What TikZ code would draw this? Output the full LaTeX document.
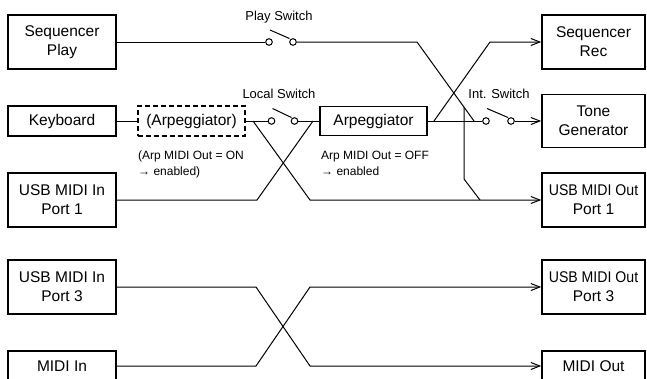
\documentclass[tikz,border=0pt]{standalone}
\usepackage{fontspec}
\setmainfont{Liberation Sans}
\usetikzlibrary{arrows.meta}
\newcommand{\narrowtxt}[1]{{\addfontfeature{FakeStretch=0.91}#1}}
\begin{document}
\begin{tikzpicture}[x=1pt,y=-1pt,
  box/.style={draw, line width=1.5pt, inner sep=0pt, align=center, font=\fontsize{15.5}{19}\selectfont},
  dbox/.style={box, dash pattern=on 5pt off 3pt},
  conn/.style={line width=1pt},
  arr/.style={conn, -{Straight Barb[length=9pt,width=7pt,line width=1pt]}},
  contact/.style={circle, draw, line width=1pt, fill=white, minimum size=6.6pt, inner sep=0pt},
  lbl/.style={font=\fontsize{13}{15}\selectfont, inner sep=0pt},
  note/.style={font=\fontsize{12}{16}\selectfont, align=left, inner sep=0pt, anchor=north west},
]
\useasboundingbox (0,0) rectangle (647,378);
\clip (0,0) rectangle (647,378);
% left boxes
\node[box, minimum width=108pt, minimum height=54pt] (seqplay) at (62,42) {Sequencer\\Play};
\node[box, minimum width=108pt, minimum height=30pt] (kbd) at (62,121) {Keyboard};
\node[dbox, minimum width=107pt, minimum height=30pt] (arpd) at (191.5,121) {(Arpeggiator)};
\node[box, minimum width=107pt, minimum height=29pt] (arp) at (373.5,121) {Arpeggiator};
\node[box, minimum width=108pt, minimum height=54pt] (usbin1) at (62,200) {USB MIDI In\\Port 1};
\node[box, minimum width=108pt, minimum height=54pt] (usbin3) at (62,287) {USB MIDI In\\Port 3};
\node[box, minimum width=108pt, minimum height=30pt] (midiin) at (62,366) {MIDI In};
% right boxes
\node[box, minimum width=103pt, minimum height=54pt] (seqrec) at (593.5,42) {Sequencer\\Rec};
\node[box, minimum width=103pt, minimum height=53pt] (tone) at (593.5,121) {Tone\\Generator};
\node[box, minimum width=103pt, minimum height=54pt] (usbout1) at (593.5,200) {\narrowtxt{USB MIDI Out}\\Port 1};
\node[box, minimum width=103pt, minimum height=54pt] (usbout3) at (593.5,287) {\narrowtxt{USB MIDI Out}\\Port 3};
\node[box, minimum width=103pt, minimum height=30pt] (midiout) at (593.5,366) {MIDI Out};
% waypoints
\coordinate (pc1) at (417,42);
\coordinate (pc2) at (474,121);
\coordinate (pb1) at (464,107.1);
\coordinate (pb2) at (464,179);
\coordinate (pb3) at (480,200);
\coordinate (lc1) at (253,121);
\coordinate (lc2) at (310,200);
\coordinate (lc3) at (257,200);
\coordinate (lc4) at (313,121);
\coordinate (ac1) at (434,121);
\coordinate (ac2) at (490,42);
\coordinate (bc1) at (256,287);
\coordinate (bc2) at (310,366);
\coordinate (bc3) at (256,366);
\coordinate (bc4) at (310,287);
% switches (contacts)
\node[contact] (ps1) at (269,42) {};
\node[contact] (ps2) at (293,42) {};
\node[contact] (ls1) at (271.5,121) {};
\node[contact] (ls2) at (294.5,121) {};
\node[contact] (is1) at (486,121) {};
\node[contact] (is2) at (511,121) {};
% connectors
\draw[conn] (seqplay.east) -- (ps1.west);
\draw[conn] (ps2.east) -- (pc1) -- (pc2);
\draw[conn] (pb1) -- (pb2) -- (pb3);
\draw[conn] (kbd.east) -- (arpd.west);
\draw[conn] (arpd.east) -- (ls1.west);
\draw[conn] (ls2.east) -- (arp.west);
\draw[arr] (lc1) -- (lc2) -- (usbout1.west);
\draw[conn] (usbin1.east) -- (lc3) -- (lc4);
\draw[conn] (arp.east) -- (is1.west);
\draw[arr] (ac1) -- (ac2) -- (seqrec.west);
\draw[arr] (is2.east) -- (tone.west);
\draw[arr] (usbin3.east) -- (bc1) -- (bc2) -- (midiout.west);
\draw[arr] (midiin.east) -- (bc3) -- (bc4) -- (usbout3.west);
% switch blades
\draw[conn] (270,30) -- (289.5,38.5);
\draw[conn] (272.5,108.5) -- (291.5,117.5);
\draw[conn] (487,108.5) -- (508,117.5);
% labels
\node[lbl] (psl) at (279,17) {Play Switch};
\node[lbl] (lsl) at (279,94) {Local Switch};
\node[lbl] (isl) at (499,94) {Int. Switch};
\node[note] (n1) at (138,151) {(Arp MIDI Out = ON\\→ enabled)};
\node[note] (n2) at (321,151) {Arp MIDI Out = OFF\\→ enabled};
\end{tikzpicture}
\end{document}
